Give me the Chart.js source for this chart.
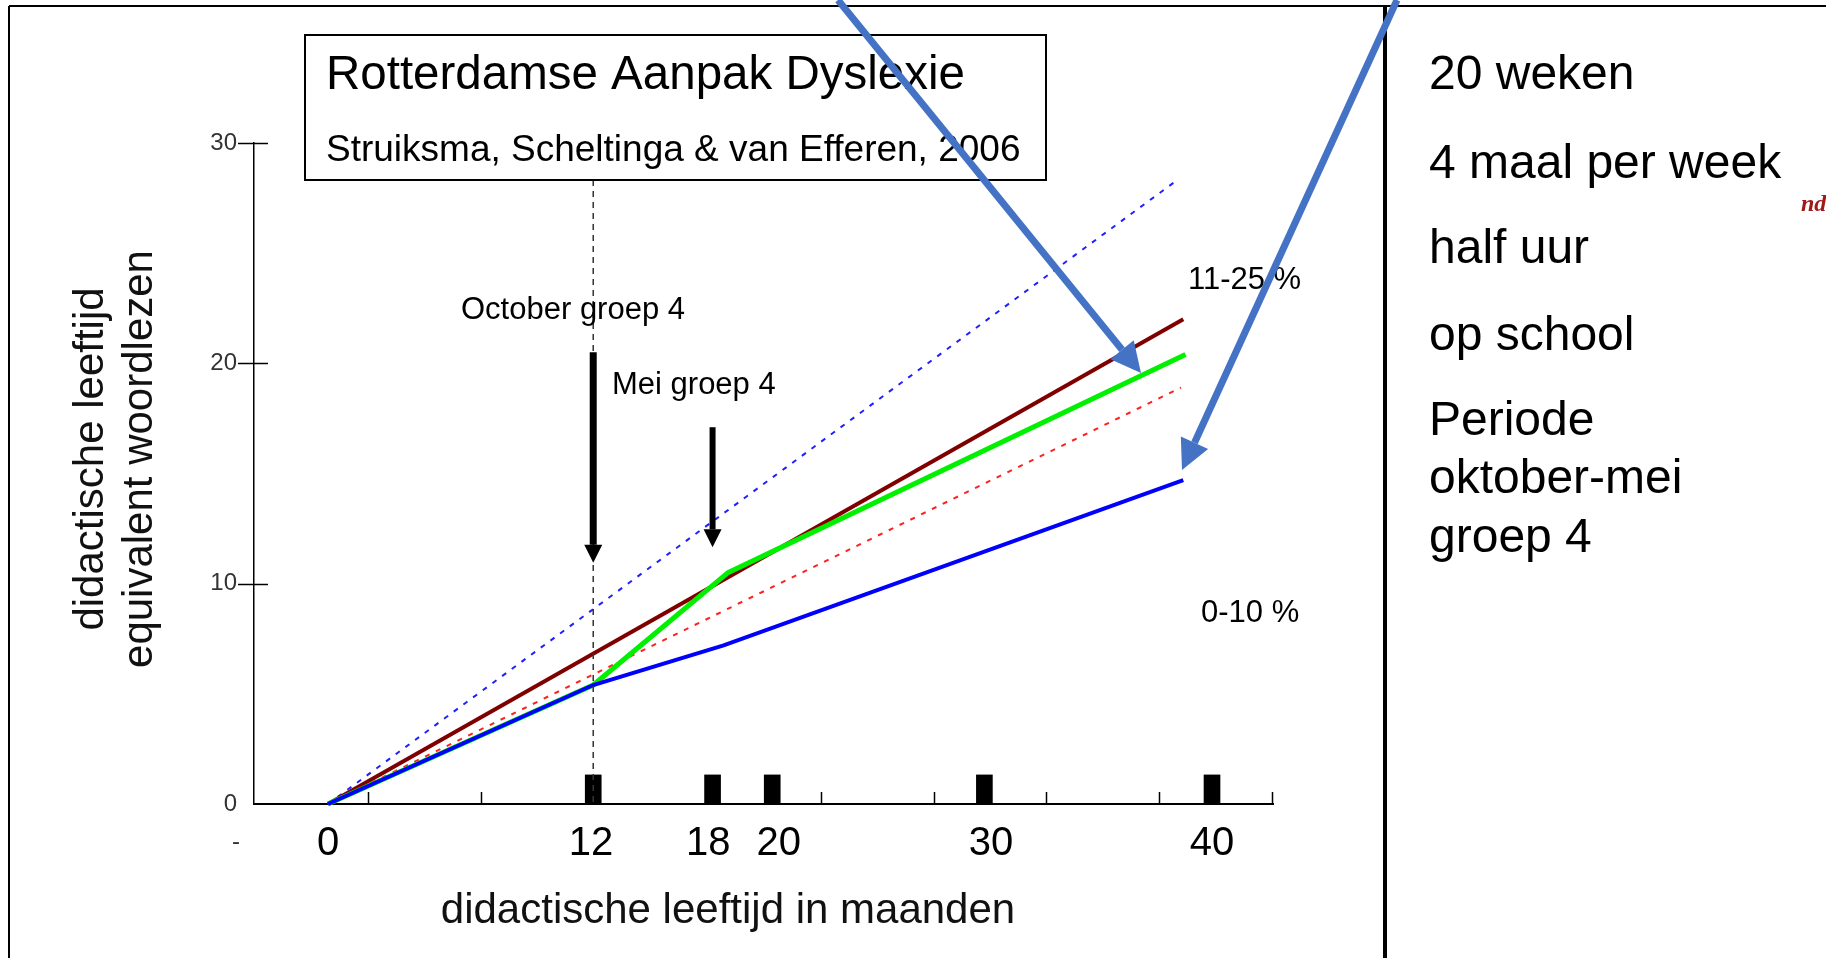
<!DOCTYPE html>
<html>
<head>
<meta charset="utf-8">
<script src="https://cdn.jsdelivr.net/npm/chart.js@4"></script>
<style>
  html, body { margin: 0; padding: 0; background: #fff; }
  #wrap { width: 1826px; height: 958px; }
</style>
</head>
<body>
<div id="wrap"><canvas id="myChart" width="1826" height="958"></canvas></div>
<script>
// didactische leeftijd (maanden) -> didactische leeftijdsequivalent woordlezen
const normHighX = [0, 38.4]
const normHighY = [0, 28.3]
const band1125X = [0, 38.7]
const band1125Y = [0, 22.0]
const treatedX = [0, 12, 18.1, 38.8]
const treatedY = [0, 5.4, 10.5, 20.4]
const normLowX = [0, 38.6]
const normLowY = [0, 18.9]
const band010X = [0, 12, 17.9, 38.7]
const band010Y = [0, 5.4, 7.2, 14.7]

// zwarte blokjes op de x-as
const markerX = [12, 17.4, 20.1, 29.7, 40]
const markerH = [1.32, 1.32, 1.32, 1.32, 1.32]

// as-labels
const xLabelAt = [0, 11.9, 17.2, 20.4, 30, 40]
const xLabels = ['0', '12', '18', '20', '30', '40']
const minorTicks = [1.8, 6.9, 12.0, 17.1, 22.3, 27.4, 32.5, 37.6, 42.7]
const yTicks = [0, 10, 20, 30]

const rightText = ['20 weken', '4 maal per week', 'half uur', 'op school', 'Periode', 'oktober-mei', 'groep 4']
const rightTextY = [76, 165, 250, 337, 422, 480, 539]

const FONT = "'Liberation Sans', Arial, sans-serif"
Chart.defaults.font.family = FONT

function pts(xs, ys) {
  return xs.map((x, i) => ({ x: x, y: ys[i] }))
}

function arrow(ctx, x1, y1, x2, y2, w, headLen, headHalf, color) {
  const ang = Math.atan2(y2 - y1, x2 - x1)
  const bx = x2 - Math.cos(ang) * headLen
  const by = y2 - Math.sin(ang) * headLen
  ctx.strokeStyle = color
  ctx.fillStyle = color
  ctx.lineWidth = w
  ctx.lineCap = 'butt'
  ctx.beginPath()
  ctx.moveTo(x1, y1)
  ctx.lineTo(bx, by)
  ctx.stroke()
  ctx.beginPath()
  ctx.moveTo(x2, y2)
  ctx.lineTo(bx + Math.sin(ang) * headHalf, by - Math.cos(ang) * headHalf)
  ctx.lineTo(bx - Math.sin(ang) * headHalf, by + Math.cos(ang) * headHalf)
  ctx.closePath()
  ctx.fill()
}

function line(ctx, x1, y1, x2, y2) {
  ctx.beginPath()
  ctx.moveTo(x1, y1)
  ctx.lineTo(x2, y2)
  ctx.stroke()
}

const slide = {
  id: 'slide',
  beforeDraw(chart) {
    const ctx = chart.ctx
    ctx.save()
    ctx.fillStyle = '#fff'
    ctx.fillRect(0, 0, chart.width, chart.height)
    ctx.restore()
  },
  afterDatasetsDraw(chart) {
    const { ctx, chartArea: a } = chart
    const x = chart.scales.x
    const y = chart.scales.y
    ctx.save()

    // y tick marks crossing the axis
    ctx.strokeStyle = '#000'
    ctx.lineWidth = 1.5
    yTicks.forEach(v => {
      if (v === 0) return
      const py = Math.round(y.getPixelForValue(v)) + 0.5
      line(ctx, a.left - 16, py, a.left + 14, py)
    })
    // minor ticks on the x axis (pointing up)
    minorTicks.forEach(v => {
      const px = Math.round(x.getPixelForValue(v)) + 0.5
      line(ctx, px, a.bottom, px, a.bottom - 12)
    })

    // dashed line at oktober groep 4
    const x12 = x.getPixelForValue(12)
    ctx.setLineDash([6, 5])
    ctx.strokeStyle = '#333'
    ctx.lineWidth = 1.5
    line(ctx, x12, 180, x12, a.bottom)
    ctx.setLineDash([])

    // black arrows
    arrow(ctx, x12, y.getPixelForValue(20.5), x12, y.getPixelForValue(10.95), 7, 18, 9, '#000')
    const xMei = x.getPixelForValue(17.4)
    arrow(ctx, xMei, y.getPixelForValue(17.1), xMei, y.getPixelForValue(11.65), 6, 18, 9, '#000')

    // stray dash left of the 0 label
    ctx.fillStyle = '#333'
    ctx.font = '24px ' + FONT
    ctx.textBaseline = 'middle'
    ctx.textAlign = 'center'
    ctx.fillText('-', 236, 842)

    // axis titles
    ctx.fillStyle = '#111'
    ctx.font = '42px ' + FONT
    ctx.fillText('didactische leeftijd in maanden', 728, 911)
    ctx.save()
    ctx.translate(91, 459)
    ctx.rotate(-Math.PI / 2)
    ctx.fillText('didactische leeftijd', 0, 0)
    ctx.restore()
    ctx.save()
    ctx.translate(140, 459)
    ctx.rotate(-Math.PI / 2)
    ctx.fillText('equivalent woordlezen', 0, 0)
    ctx.restore()

    // annotations
    ctx.fillStyle = '#000'
    ctx.textAlign = 'left'
    ctx.font = '31px ' + FONT
    ctx.fillText('October groep 4', 461, 310)
    ctx.fillText('Mei groep 4', 612, 385)
    ctx.fillText('11-25 %', 1188, 280)
    ctx.fillText('0-10 %', 1201, 613)

    // title box
    ctx.fillStyle = '#fff'
    ctx.fillRect(305, 35, 741, 145)
    ctx.strokeStyle = '#000'
    ctx.lineWidth = 2
    ctx.strokeRect(305, 35, 741, 145)
    ctx.fillStyle = '#000'
    ctx.font = '47.5px ' + FONT
    ctx.fillText('Rotterdamse Aanpak Dyslexie', 326, 76)
    ctx.font = '37px ' + FONT
    ctx.fillText('Struiksma, Scheltinga & van Efferen, 2006', 326, 151)

    // right panel
    ctx.font = '48px ' + FONT
    rightText.forEach((t, i) => ctx.fillText(t, 1429, rightTextY[i]))
    ctx.fillStyle = '#a01818'
    ctx.font = 'italic bold 24px "Liberation Serif", serif'
    ctx.fillText('nd', 1801, 205)

    // frame
    ctx.strokeStyle = '#000'
    ctx.lineWidth = 2
    line(ctx, 9, 6, 1826, 6)
    line(ctx, 9, 6, 9, 958)
    ctx.lineWidth = 4
    line(ctx, 1385, 6, 1385, 958)

    // blue call-out arrows
    arrow(ctx, 838, 0, 1141, 373, 7, 30, 15, '#4472c4')
    arrow(ctx, 1397, 0, 1182, 470, 7, 30, 15, '#4472c4')

    ctx.restore()
  }
}

const ctx = document.getElementById('myChart').getContext('2d')
const myChart = new Chart(ctx, {
  type: 'line',
  data: {
    datasets: [
      {
        label: '0-10 %',
        data: pts(band010X, band010Y),
        borderColor: '#0000ff',
        borderWidth: 4,
        order: 1,
      },
      {
        label: 'behandeld',
        data: pts(treatedX, treatedY),
        borderColor: '#00f000',
        borderWidth: 5,
        order: 2,
      },
      {
        label: '11-25 %',
        data: pts(band1125X, band1125Y),
        borderColor: '#800000',
        borderWidth: 4,
        order: 3,
      },
      {
        label: 'norm laag',
        data: pts(normLowX, normLowY),
        borderColor: '#ff2020',
        borderWidth: 2,
        borderDash: [5, 7],
        order: 4,
      },
      {
        label: 'norm hoog',
        data: pts(normHighX, normHighY),
        borderColor: '#2020ff',
        borderWidth: 2,
        borderDash: [5, 7],
        order: 5,
      },
      {
        type: 'bar',
        label: 'meetmomenten',
        data: pts(markerX, markerH),
        backgroundColor: '#000',
        barThickness: 16,
        order: 6,
      },
    ],
  },
  options: {
    responsive: false,
    animation: false,
    maintainAspectRatio: false,
    layout: { padding: { left: 0, top: 143, right: 553, bottom: 0 } },
    elements: {
      point: { radius: 0 },
      line: { tension: 0, fill: false },
    },
    datasets: {
      line: { clip: false },
      bar: { clip: false },
    },
    plugins: {
      legend: { display: false },
      tooltip: { enabled: false },
    },
    scales: {
      x: {
        type: 'linear',
        min: -3.35,
        max: 42.76,
        offset: false,
        afterFit: s => { s.height = 154 },
        afterBuildTicks: s => { s.ticks = xLabelAt.map(v => ({ value: v })) },
        ticks: {
          autoSkip: false,
          maxRotation: 0,
          padding: 16,
          color: '#000',
          font: { size: 40 },
          callback: (v, i) => xLabels[i],
        },
        grid: { display: false, drawTicks: false, offset: false },
        border: { display: true, color: '#000', width: 2 },
      },
      y: {
        type: 'linear',
        min: 0,
        max: 30,
        afterFit: s => { s.width = 254 },
        afterBuildTicks: s => { s.ticks = yTicks.map(v => ({ value: v })) },
        ticks: {
          padding: 17,
          color: '#333',
          font: { size: 24 },
        },
        grid: { display: false, drawTicks: false },
        border: { display: true, color: '#000', width: 1.5 },
      },
    },
  },
  plugins: [slide],
})
</script>
</body>
</html>
